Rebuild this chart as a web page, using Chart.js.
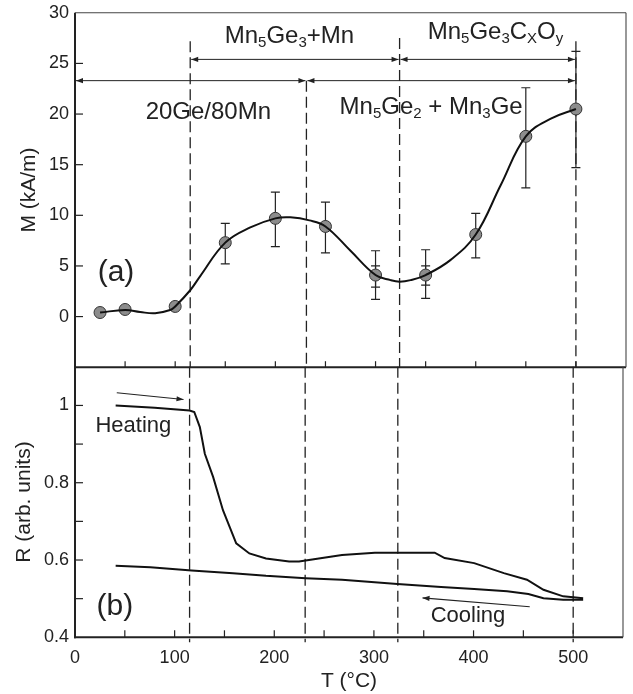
<!DOCTYPE html>
<html><head><meta charset="utf-8">
<script src="https://cdn.jsdelivr.net/npm/chart.js@4.4.1/dist/chart.umd.min.js"></script>
<style>
html,body{margin:0;padding:0;background:#fff;}
#wrap{position:relative;width:633px;height:694px;overflow:hidden;}
canvas{position:absolute;left:0;top:0;}
</style></head><body>
<div id="wrap"><canvas id="ca" width="633" height="420"></canvas><canvas id="cb" width="633" height="420"></canvas></div>
<script>
// ---- data (a): magnetisation points ----
const pointT = [25, 50, 100, 150, 200, 250, 300, 350, 400, 450, 500];
const pointM = [0.4, 0.7, 1.0, 7.3, 9.7, 8.9, 4.1, 4.1, 8.1, 17.8, 20.5];
const errHi  = [null, null, null, 9.2, 12.3, 11.3, 6.5, 6.6, 10.2, 22.6, 26.2];
const errLo  = [null, null, null, 5.2, 6.9, 6.3, 1.7, 1.8, 5.8, 12.7, 14.7];
const innerHi = [null, null, null, null, null, null, 5.0, 5.0, null, null, null];
const innerLo = [null, null, null, null, null, null, 2.9, 3.1, null, null, null];
// guide curve through (a)
const curveT = [25, 50, 65, 80, 95, 100, 115, 125, 150, 175, 200, 215, 234, 250, 275, 300, 315, 324, 335, 350, 375, 400, 425, 450, 475, 500];
const curveM = [0.4, 0.65, 0.45, 0.33, 0.65, 1.0, 2.6, 4.0, 7.3, 8.8, 9.7, 9.8, 9.5, 8.9, 6.5, 4.1, 3.6, 3.45, 3.6, 4.1, 5.6, 8.1, 13.0, 17.8, 19.55, 20.5];
// phase boundaries (°C)
const dividerT = [115, 231, 324, 500];
// ---- data (b): resistance ----
const heatT = [40.8, 80, 115, 119.7, 125.3, 130.3, 138.6, 148.5, 155.2, 161.8, 175, 191.7, 214.9, 224.8, 234.8, 244.7, 268, 301, 361, 371, 400.6, 430.4, 453.6, 470.2, 490, 510];
const heatR = [1.000, 0.994, 0.987, 0.983, 0.944, 0.875, 0.815, 0.729, 0.686, 0.643, 0.617, 0.604, 0.596, 0.596, 0.600, 0.604, 0.613, 0.619, 0.619, 0.605, 0.592, 0.566, 0.549, 0.523, 0.506, 0.501];
const coolT = [40.8, 75.6, 117, 158.5, 191.7, 231.5, 268, 323.6, 367.4, 400.6, 433.7, 455, 470.2, 490, 510];
const coolR = [0.585, 0.581, 0.573, 0.566, 0.559, 0.553, 0.549, 0.538, 0.530, 0.525, 0.519, 0.512, 0.501, 0.497, 0.497];
// tick labels
const xTickLabels = ['0', '100', '200', '300', '400', '500'];
const yTickLabelsA = ['0', '5', '10', '15', '20', '25', '30'];
const yTickLabelsB = ['0.4', '0.6', '0.8', '1'];

const FONT = '"Liberation Sans", Arial, Helvetica, sans-serif';
const INK = '#222';

function rich(ctx, parts, x, y, size, subSize, subDy) {
  let cx = x;
  parts.forEach(p => {
    const sub = p[1] === 1;
    ctx.font = (sub ? subSize : size) + 'px ' + FONT;
    ctx.fillText(p[0], cx, y + (sub ? subDy : 0));
    cx += ctx.measureText(p[0]).width;
  });
}
function head(ctx, tx, ty, fx, fy, len, hw) {
  const a = Math.atan2(ty - fy, tx - fx);
  ctx.beginPath();
  ctx.moveTo(tx, ty);
  ctx.lineTo(tx - len * Math.cos(a) + hw * Math.sin(a), ty - len * Math.sin(a) - hw * Math.cos(a));
  ctx.lineTo(tx - len * Math.cos(a) - hw * Math.sin(a), ty - len * Math.sin(a) + hw * Math.cos(a));
  ctx.closePath();
  ctx.fill();
}
function arrow(ctx, x1, y1, x2, y2, both) {
  ctx.beginPath(); ctx.moveTo(x1, y1); ctx.lineTo(x2, y2); ctx.stroke();
  head(ctx, x2, y2, x1, y1, 7, 2.6);
  if (both) head(ctx, x1, y1, x2, y2, 7, 2.6);
}
function frame(ctx, a, drawTop) {
  ctx.strokeStyle = INK;
  ctx.lineWidth = 2;
  ctx.beginPath(); ctx.moveTo(a.left, a.top); ctx.lineTo(a.left, a.bottom + 1); ctx.stroke();
  ctx.beginPath(); ctx.moveTo(a.left - 1, a.bottom); ctx.lineTo(a.right, a.bottom); ctx.stroke();
  ctx.lineWidth = 1.1;
  ctx.strokeStyle = '#444';
  ctx.beginPath(); ctx.moveTo(a.right, a.top); ctx.lineTo(a.right, a.bottom); ctx.stroke();
  if (drawTop) { ctx.beginPath(); ctx.moveTo(a.left, a.top); ctx.lineTo(a.right, a.top); ctx.stroke(); }
}
function inwardTicks(ctx, chart, xLen, yLen) {
  const a = chart.chartArea, xs = chart.scales.x, ys = chart.scales.y;
  ctx.strokeStyle = INK; ctx.lineWidth = 1.2;
  for (let v = xs.min + 50; v < xs.max - 1e-6; v += 50) {
    const x = xs.getPixelForValue(v);
    ctx.beginPath(); ctx.moveTo(x, a.bottom); ctx.lineTo(x, a.bottom - xLen); ctx.stroke();
  }
  ys.ticks.forEach(t => {
    if (t.value <= ys.min + 1e-9 || t.value >= ys.max - 1e-9) return;
    const y = ys.getPixelForValue(t.value);
    ctx.beginPath(); ctx.moveTo(a.left, y); ctx.lineTo(a.left + yLen, y); ctx.stroke();
  });
}

const panelA = {
  id: 'panelA',
  beforeDatasetsDraw(chart) {
    const ctx = chart.ctx, xs = chart.scales.x, ys = chart.scales.y, a = chart.chartArea;
    const tops = [27.2, 23.3, 27.5, 27.2];
    ctx.save();
    ctx.strokeStyle = INK; ctx.lineWidth = 1.3; ctx.setLineDash([11, 5]);
    dividerT.forEach((t, i) => {
      const x = xs.getPixelForValue(t);
      ctx.beginPath(); ctx.moveTo(x, ys.getPixelForValue(tops[i])); ctx.lineTo(x, a.bottom); ctx.stroke();
    });
    ctx.setLineDash([]);
    ctx.lineWidth = 1.2;
    const bar = (x, hi, lo) => {
      const y1 = ys.getPixelForValue(hi), y2 = ys.getPixelForValue(lo);
      ctx.beginPath(); ctx.moveTo(x, y1); ctx.lineTo(x, y2);
      ctx.moveTo(x - 4.5, y1); ctx.lineTo(x + 4.5, y1);
      ctx.moveTo(x - 4.5, y2); ctx.lineTo(x + 4.5, y2); ctx.stroke();
    };
    pointT.forEach((t, i) => {
      const x = xs.getPixelForValue(t);
      if (errHi[i] !== null) bar(x, errHi[i], errLo[i]);
      if (innerHi[i] !== null) bar(x, innerHi[i], innerLo[i]);
    });
    ctx.restore();
  },
  afterDraw(chart) {
    const ctx = chart.ctx, xs = chart.scales.x, ys = chart.scales.y, a = chart.chartArea;
    const X = v => xs.getPixelForValue(v), Y = v => ys.getPixelForValue(v);
    ctx.save();
    frame(ctx, a, true);
    inwardTicks(ctx, chart, 6, 8);
    ctx.strokeStyle = INK; ctx.fillStyle = INK; ctx.lineWidth = 1;
    arrow(ctx, X(dividerT[0]) + 1, Y(25.4), X(dividerT[2]) - 1, Y(25.4), true);
    arrow(ctx, X(dividerT[2]) + 1, Y(25.4), X(dividerT[3]) - 1, Y(25.4), true);
    arrow(ctx, X(0) + 1, Y(23.3), X(dividerT[1]) - 1, Y(23.3), true);
    arrow(ctx, X(dividerT[1]) + 1, Y(23.3), X(dividerT[3]) - 1, Y(23.3), true);
    ctx.fillStyle = INK; ctx.textAlign = 'left'; ctx.textBaseline = 'alphabetic';
    rich(ctx, [['Mn', 0], ['5', 1], ['Ge', 0], ['3', 1], ['+Mn', 0]], X(149.5), Y(27.0), 24, 15, 4);
    rich(ctx, [['Mn', 0], ['5', 1], ['Ge', 0], ['3', 1], ['C', 0], ['X', 1], ['O', 0], ['y', 1]], X(352.1), Y(27.4), 24, 15, 4);
    rich(ctx, [['20Ge/80Mn', 0]], X(70.5), Y(19.55), 24, 15, 4);
    rich(ctx, [['Mn', 0], ['5', 1], ['Ge', 0], ['2', 1], [' + Mn', 0], ['3', 1], ['Ge', 0]], X(264.1), Y(20.05), 24, 15, 4);
    ctx.font = '30px ' + FONT;
    ctx.fillText('(a)', X(22.6), Y(3.56));
    ctx.restore();
  }
};

const panelB = {
  id: 'panelB',
  beforeDatasetsDraw(chart) {
    const ctx = chart.ctx, xs = chart.scales.x, a = chart.chartArea;
    ctx.save();
    ctx.strokeStyle = INK; ctx.lineWidth = 1.3; ctx.setLineDash([11, 5]);
    dividerT.forEach(t => {
      const x = xs.getPixelForValue(t);
      ctx.beginPath(); ctx.moveTo(x, a.top); ctx.lineTo(x, a.bottom + 5); ctx.stroke();
    });
    ctx.restore();
  },
  afterDraw(chart) {
    const ctx = chart.ctx, xs = chart.scales.x, ys = chart.scales.y, a = chart.chartArea;
    const X = v => xs.getPixelForValue(v), Y = v => ys.getPixelForValue(v);
    ctx.save();
    frame(ctx, a, false);
    inwardTicks(ctx, chart, 7, 8);
    ctx.strokeStyle = INK; ctx.fillStyle = INK; ctx.lineWidth = 1.1;
    arrow(ctx, X(41.9), Y(1.033), X(108.9), Y(1.0155), false);
    arrow(ctx, X(456.4), Y(0.479), X(348.8), Y(0.502), false);
    ctx.textAlign = 'left'; ctx.textBaseline = 'alphabetic';
    ctx.font = '22px ' + FONT;
    ctx.fillText('Heating', X(20.5), Y(0.931));
    ctx.fillText('Cooling', X(357), Y(0.4404));
    ctx.font = '30px ' + FONT;
    ctx.fillText('(b)', X(21.6), Y(0.4577));
    ctx.restore();
  }
};

const tickFont = { family: FONT, size: 18 };
const titleFont = { family: FONT, size: 21 };

function cfgA() {
  return {
    type: 'scatter',
    data: {
      datasets: [
        { type: 'line', data: curveT.map((t, i) => ({ x: t, y: curveM[i] })), borderColor: '#111', borderWidth: 2,
          pointRadius: 0, tension: 0.4, fill: false },
        { type: 'scatter', data: pointT.map((t, i) => ({ x: t, y: pointM[i] })), pointRadius: 6,
          pointBackgroundColor: '#8c8c8c', pointBorderColor: '#333', pointBorderWidth: 1 }
      ]
    },
    options: {
      responsive: false, maintainAspectRatio: false, animation: false, devicePixelRatio: 1,
      layout: { padding: { top: 0, right: 6.3, left: 0, bottom: 0 } },
      plugins: { legend: { display: false }, tooltip: { enabled: false } },
      scales: {
        x: { type: 'linear', min: 0, max: 550, ticks: { display: false, stepSize: 50 },
             grid: { display: false, drawTicks: false }, border: { display: false },
             afterFit(s) { s.height = 2; } },
        y: { type: 'linear', min: -5, max: 30,
             ticks: { stepSize: 5, font: tickFont, color: INK, padding: 6,
                      callback: v => { const i = Math.round(v / 5); return (v >= 0 && yTickLabelsA[i] !== undefined) ? yTickLabelsA[i] : ''; } },
             grid: { display: false, drawTicks: false }, border: { display: false },
             title: { display: true, text: 'M (kA/m)', font: titleFont, color: INK, padding: { top: 17, bottom: 0 } },
             afterFit(s) { s.width = 75; } }
      }
    },
    plugins: [panelA]
  };
}

function cfgB() {
  return {
    type: 'scatter',
    data: {
      datasets: [
        { type: 'line', data: heatT.map((t, i) => ({ x: t, y: heatR[i] })), borderColor: '#111', borderWidth: 2,
          pointRadius: 0, tension: 0, fill: false },
        { type: 'line', data: coolT.map((t, i) => ({ x: t, y: coolR[i] })), borderColor: '#111', borderWidth: 2,
          pointRadius: 0, tension: 0, fill: false }
      ]
    },
    options: {
      responsive: false, maintainAspectRatio: false, animation: false, devicePixelRatio: 1,
      layout: { padding: { top: 0, right: 6.3, left: 0, bottom: 0 } },
      plugins: { legend: { display: false }, tooltip: { enabled: false } },
      scales: {
        x: { type: 'linear', min: 0, max: 550,
             ticks: { stepSize: 50, autoSkip: false, maxRotation: 0, font: tickFont, color: INK, padding: 10,
                      callback: v => { const r = Math.round(v); return (r % 100 === 0 && xTickLabels[r / 100] !== undefined) ? xTickLabels[r / 100] : ''; } },
             grid: { display: false, drawTicks: false }, border: { display: false },
             title: { display: true, text: 'T (°C)', font: titleFont, color: INK, padding: { top: 0, bottom: 0 } },
             afterFit(s) { s.height = 56.7; } },
        y: { type: 'linear', min: 0.4, max: 1.1,
             ticks: { stepSize: 0.1, font: tickFont, color: INK, padding: 6,
                      callback: v => { const r = Math.round(v * 10); const m = { 4: 0, 6: 1, 8: 2, 10: 3 }; return (r in m) ? yTickLabelsB[m[r]] : ''; } },
             grid: { display: false, drawTicks: false }, border: { display: false },
             title: { display: true, text: 'R (arb. units)', font: titleFont, color: INK, padding: { top: 12, bottom: 0 } },
             afterFit(s) { s.width = 75; } }
      }
    },
    plugins: [panelB]
  };
}

// place each chart so its plot area lands on the wanted page rectangle
function build(id, factory, wantTop, wantBottom) {
  const cv = document.getElementById(id);
  cv.width = 633; cv.height = 420;
  const probe = new Chart(cv, factory());
  const a = probe.chartArea;
  const mT = a.top, mB = 420 - a.bottom;
  probe.destroy();
  const top = Math.round(wantTop - mT);
  const h = Math.round(wantBottom + mB - top);
  cv.width = 633; cv.height = h;
  cv.style.top = top + 'px';
  return new Chart(cv, factory());
}
build('ca', cfgA, 12.7, 366.7);
build('cb', cfgB, 366.7, 637.3);
</script>
</body></html>
